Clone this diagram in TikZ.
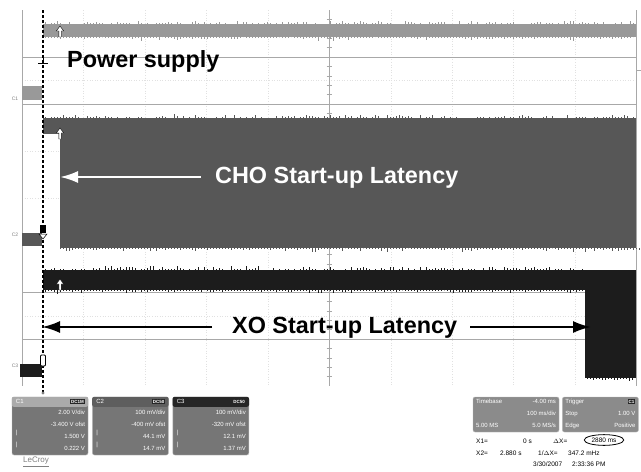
\documentclass[tikz,border=0pt]{standalone}
\usepackage{xcolor}
\usepackage{fontspec}
\setmainfont{Liberation Sans}
\usetikzlibrary{arrows.meta,positioning,shapes.geometric}

\definecolor{gridgray}{HTML}{A8A8A8}
\definecolor{psgray}{HTML}{999999}
\definecolor{chogray}{HTML}{575757}
\definecolor{xoblack}{HTML}{1C1C1C}
\definecolor{boxgray}{HTML}{767676}
\definecolor{hdrlight}{HTML}{AAAAAA}
\definecolor{hdrmid}{HTML}{5E5E5E}
\definecolor{hdrdark}{HTML}{262626}

\begin{document}
\begin{tikzpicture}[x=1pt, y=-1pt,
        grid/.style={draw=gridgray, line width=0.9pt},
        subgrid/.style={draw=gridgray!35, line width=0.6pt, dotted},
        trig/.style={draw=black, line width=1.1pt, dash pattern=on 3pt off 2pt},
        bigtext/.style={font=\fontsize{23.4}{28}\selectfont\bfseries, inner sep=0pt},
        latency/.style={line width=2.3pt, -{Latex[length=18pt,width=12pt]}},
        chlabel/.style={font=\fontsize{5}{5}\selectfont, text=gray, inner sep=0pt},
        chbox/.style={rectangle, rounded corners=2pt, fill=boxgray, draw=gray!55, minimum width=76pt, minimum height=58pt, inner sep=0pt},
        tbbox/.style={rectangle, rounded corners=2pt, fill=boxgray!85, draw=gray!55, minimum height=35pt, inner sep=0pt},
        boxtxt/.style={font=\fontsize{6}{12}\selectfont, text=white, inner sep=0pt},
        badge/.style={fill=black!85, text=white, font=\fontsize{4.5}{5}\selectfont\bfseries, inner sep=1pt},
        readout/.style={font=\fontsize{6.5}{6.5}\selectfont, inner sep=0pt}
    ]
    \useasboundingbox (0,0) rectangle (641,472);
    \fill[white] (0,0) rectangle (641,472);

    % Grid
    \foreach \x in {83,145,206,268,391,452,513,575}
        \draw[subgrid] (\x,10) -- (\x,386);
    \foreach \y in {80,151,198,316}
        \draw[subgrid] (22,\y) -- (636,\y);
    \foreach \y in {57,104,292,339}
        \draw[grid] (22,\y) -- (636,\y);
    \foreach \x in {22,329,636}
        \draw[grid] (\x,10) -- (\x,386);
    \foreach \y in {19.4,28.8,...,386}
        \draw[grid, line width=0.5pt] (326.5,\y) -- (331.5,\y);
    \draw[grid] (636,70) -- (641,70);

    % Traces: power supply
    \fill[psgray] (22,86) rectangle (42,100);
    \fill[psgray] (43,24) rectangle (636,37);
    % Traces: CHO
    \fill[chogray] (22,233) rectangle (42,246);
    \fill[chogray] (43,118) rectangle (60,134);
    \fill[chogray] (60,118) rectangle (636,248);
    % Traces: XO
    \fill[xoblack] (20,364) rectangle (42,377);
    \fill[xoblack] (43,270) rectangle (636,290);
    \fill[xoblack] (585,270) rectangle (636,378);

    % Noise on the trace edges
    \pgfmathsetseed{11}
    \foreach \x in {45,48,...,634} {
        \pgfmathsetmacro{\up}{4*rnd*rnd}
        \pgfmathsetmacro{\dn}{4*rnd*rnd}
        \draw[psgray, line width=0.8pt] (\x,24) -- (\x,24-\up);
        \draw[psgray, line width=0.8pt] (\x,37) -- (\x,37+\dn);
    }
    \foreach \x in {45,48,...,634} {
        \pgfmathsetmacro{\up}{4*rnd*rnd}
        \pgfmathsetmacro{\dn}{4*rnd*rnd}
        \draw[chogray, line width=0.8pt] (\x,118) -- (\x,118-\up);
        \draw[chogray, line width=0.8pt] (\x+15,248) -- (\x+15,248+\dn);
    }
    \foreach \x in {45,48,...,583} {
        \pgfmathsetmacro{\up}{4.5*rnd*rnd}
        \pgfmathsetmacro{\dn}{4*rnd*rnd}
        \draw[xoblack, line width=0.8pt] (\x,270) -- (\x,270-\up);
        \draw[xoblack, line width=0.8pt] (\x,290) -- (\x,290+\dn);
    }
    \foreach \x in {587,590,...,634} {
        \pgfmathsetmacro{\dn}{4*rnd*rnd}
        \draw[xoblack, line width=0.8pt] (\x,378) -- (\x,378+\dn);
    }

    % Channel labels
    \node[chlabel] (c1lab) at (15,99) {C1};
    \node[chlabel] (c2lab) at (15,235) {C2};
    \node[chlabel] (c3lab) at (15,366) {C3};

    % Trigger line and markers
    \draw[trig] (43,10) -- (43,393);
    \draw[line width=0.9pt] (38,63) -- (48,63) (43,56) -- (43,63);
    \fill[black] (40,225) rectangle (46,233);
    \draw[line width=0.5pt, fill=white] (39,234) -- (47,234) -- (43,239) -- cycle;
    \draw[line width=0.8pt, fill=white, rounded corners=1pt] (40.5,355) rectangle (45.5,366);
    \fill[gray] (43,393) circle (1.6);

    % Cursor arrows
    \foreach \y in {37,139,290}
        \draw[black, line width=0.4pt, fill=white] (58.8,\y) -- (58.8,\y-6) -- (56.3,\y-6) -- (60,\y-11) -- (63.7,\y-6) -- (61.2,\y-6) -- (61.2,\y) -- cycle;

    % Labels
    \node[bigtext, anchor=base west] (psup) at (67,67) {Power supply};
    \node[bigtext, text=white, anchor=base west] (cho) at (215,183) {CHO Start-up Latency};
    \node[bigtext, anchor=base west] (xo) at (232,333) {XO Start-up Latency};

    % Paths: latency arrows
    \coordinate (chostart) at (201,177);
    \coordinate (choend) at (60,177);
    \coordinate (xostart) at (212,327);
    \coordinate (xoend) at (42,327);
    \coordinate (xostop) at (470,327);
    \coordinate (xoready) at (591,327);
    \draw[latency, white] (chostart) -- (choend);
    \draw[latency, black] (xostart) -- (xoend);
    \draw[latency, black] (xostop) -- (xoready);

    % Channel boxes
    \node[chbox] (c1box) at (50,426) {};
    \node[chbox, right=4pt of c1box] (c2box) {};
    \node[chbox, right=4pt of c2box] (c3box) {};
    \fill[hdrlight, rounded corners=2pt] (c1box.north west) rectangle ([yshift=-10pt]c1box.north east);
    \fill[hdrmid, rounded corners=2pt] (c2box.north west) rectangle ([yshift=-10pt]c2box.north east);
    \fill[hdrdark, rounded corners=2pt] (c3box.north west) rectangle ([yshift=-10pt]c3box.north east);

    \node[boxtxt, anchor=west] (c1name) at ([xshift=4pt,yshift=-5pt]c1box.north west) {C1};
    \node[boxtxt, anchor=west] (c2name) at ([xshift=4pt,yshift=-5pt]c2box.north west) {C2};
    \node[boxtxt, anchor=west] (c3name) at ([xshift=4pt,yshift=-5pt]c3box.north west) {C3};
    \node[badge, anchor=east] (c1cpl) at ([xshift=-3pt,yshift=-5pt]c1box.north east) {DC1M};
    \node[badge, anchor=east] (c2cpl) at ([xshift=-3pt,yshift=-5pt]c2box.north east) {DC50};
    \node[badge, anchor=east] (c3cpl) at ([xshift=-3pt,yshift=-5pt]c3box.north east) {DC50};

    \node[boxtxt, align=right, anchor=north east] (c1txt) at ([xshift=-3pt,yshift=-13pt]c1box.north east) {2.00 V/div\\-3.400 V ofst\\1.500 V\\0.222 V};
    \node[boxtxt, align=right, anchor=north east] (c2txt) at ([xshift=-3pt,yshift=-13pt]c2box.north east) {100 mV/div\\-400 mV ofst\\44.1 mV\\14.7 mV};
    \node[boxtxt, align=right, anchor=north east] (c3txt) at ([xshift=-3pt,yshift=-13pt]c3box.north east) {100 mV/div\\-320 mV ofst\\12.1 mV\\1.37 mV};
    \foreach \b in {c1box,c2box,c3box}
        \node[boxtxt, align=left, anchor=north west] (\b bar) at ([xshift=4pt,yshift=-13pt]\b.north west) {~\\~\\|\\|};

    \node[font=\fontsize{8}{8}\selectfont, text=gray, inner sep=0pt] (logo) at (36,462) {\underline{LeCroy}};

    % Timebase and trigger boxes
    \node[tbbox, minimum width=86pt] (tbase) at (516,414.5) {};
    \node[tbbox, minimum width=76pt, right=3pt of tbase] (trig) {};
    \node[boxtxt, align=left, anchor=north west] (tbleft) at ([xshift=3pt,yshift=-2pt]tbase.north west) {Timebase\\~\\5.00 MS};
    \node[boxtxt, align=right, anchor=north east] (tbright) at ([xshift=-3pt,yshift=-2pt]tbase.north east) {-4.00 ms\\100 ms/div\\5.0 MS/s};
    \node[boxtxt, align=left, anchor=north west] (trleft) at ([xshift=3pt,yshift=-2pt]trig.north west) {Trigger\\Stop\\Edge};
    \node[boxtxt, align=right, anchor=north east] (trright) at ([xshift=-3pt,yshift=-14pt]trig.north east) {1.00 V\\Positive};
    \node[badge, anchor=north east] (trcpl) at ([xshift=-3pt,yshift=-2pt]trig.north east) {C1};

    % Cursor readouts
    \node[readout, anchor=west] (x1) at (476,441) {X1=};
    \node[readout, anchor=west] (x1val) at (523,441) {0 s};
    \node[readout, anchor=west] (dx) at (553,441) {$\Delta$X=};
    \node[readout, draw, ellipse, inner sep=1.5pt, line width=0.8pt] (dxval) at (604,440) {2880 ms};
    \node[readout, anchor=west] (x2) at (476,453) {X2=};
    \node[readout, anchor=west] (x2val) at (500,453) {2.880 s};
    \node[readout, anchor=west] (fx) at (538,453) {1/$\Delta$X=};
    \node[readout, anchor=west] (fxval) at (568,453) {347.2 mHz};
    \node[readout, anchor=west] (date) at (533,464) {3/30/2007};
    \node[readout, anchor=west] (clock) at (572,464) {2:33:36 PM};
\end{tikzpicture}
\end{document}
